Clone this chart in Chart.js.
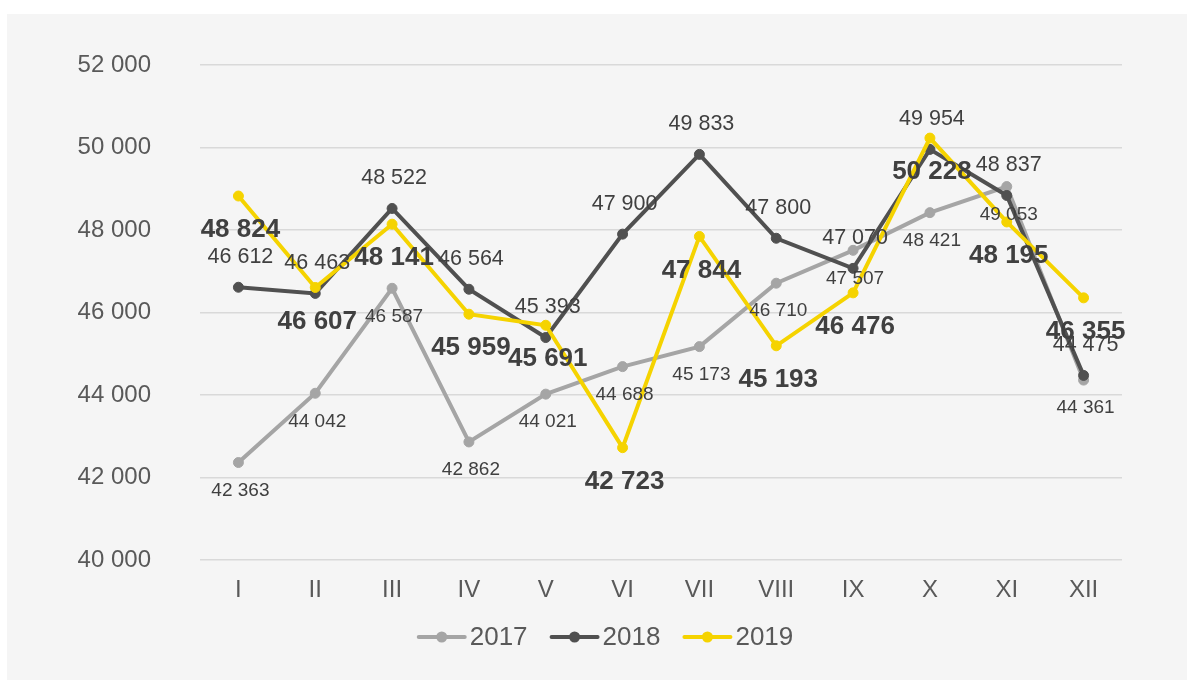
<!DOCTYPE html>
<html>
<head>
<meta charset="utf-8">
<script src="https://cdn.jsdelivr.net/npm/chart.js@4/dist/chart.umd.min.js"></script>
<style>
  html, body { margin: 0; padding: 0; background: #fff; }
  #wrap { position: absolute; left: 7px; top: 14px; width: 1180px; height: 666px; background: #f5f5f5; }
</style>
</head>
<body>
<div id="wrap"><canvas id="chart" width="1180" height="666"></canvas></div>
<script>
const months = ["I", "II", "III", "IV", "V", "VI", "VII", "VIII", "IX", "X", "XI", "XII"];
const seriesNames = ["2017", "2018", "2019"];
const values2017 = [42363, 44042, 46587, 42862, 44021, 44688, 45173, 46710, 47507, 48421, 49053, 44361];
const values2018 = [46612, 46463, 48522, 46564, 45393, 47900, 49833, 47800, 47070, 49954, 48837, 44475];
const values2019 = [48824, 46607, 48141, 45959, 45691, 42723, 47844, 45193, 46476, 50228, 48195, 46355];

const colors = ["#a5a5a5", "#505050", "#f5d300"];
const FONT = "'Liberation Sans', Arial, sans-serif";

// label look per series: offset from point (px), font
const labelStyle = [
  { dy: 28, font: "19px " + FONT },
  { dy: -30, font: "21.5px " + FONT },
  { dy: 34, font: "bold 26px " + FONT }
];

const fmt = v => String(v).replace(/\B(?=(\d{3})+(?!\d))/g, " ");

const valueLabels = {
  id: "valueLabels",
  afterDatasetsDraw(chart) {
    const ctx = chart.ctx;
    ctx.save();
    ctx.textAlign = "center";
    ctx.textBaseline = "middle";
    ctx.fillStyle = "#404040";
    chart.data.datasets.forEach((ds, i) => {
      const meta = chart.getDatasetMeta(i);
      const st = labelStyle[i];
      ctx.font = st.font;
      meta.data.forEach((pt, j) => {
        ctx.fillText(fmt(ds.data[j]), pt.x + 2, pt.y + st.dy);
      });
    });
    ctx.restore();
  }
};

const lineLegend = {
  id: "lineLegend",
  afterDraw(chart) {
    const ctx = chart.ctx;
    ctx.save();
    ctx.font = "26px " + FONT;
    ctx.textBaseline = "middle";
    const lineW = 50, gap = 3, itemGap = 22;
    const widths = seriesNames.map(n => lineW + gap + ctx.measureText(n).width);
    const total = widths.reduce((a, b) => a + b, 0) + itemGap * (widths.length - 1);
    let x = 598 - total / 2;
    const y = 623;
    seriesNames.forEach((n, i) => {
      ctx.strokeStyle = colors[i];
      ctx.fillStyle = colors[i];
      ctx.lineWidth = 4;
      ctx.lineCap = "round";
      ctx.beginPath();
      ctx.moveTo(x + 2, y);
      ctx.lineTo(x + lineW - 2, y);
      ctx.stroke();
      ctx.beginPath();
      ctx.arc(x + lineW / 2, y, 5.5, 0, Math.PI * 2);
      ctx.fill();
      ctx.fillStyle = "#595959";
      ctx.fillText(n, x + lineW + gap, y + 1);
      x += widths[i] + itemGap;
    });
    ctx.restore();
  }
};

const mk = (i, data, order) => ({
  label: seriesNames[i],
  data,
  order,
  borderColor: colors[i],
  backgroundColor: colors[i],
  pointBackgroundColor: colors[i],
  pointBorderColor: colors[i],
  borderWidth: 4,
  pointRadius: 5,
  pointBorderWidth: 1,
  tension: 0,
  fill: false
});

new Chart(document.getElementById("chart"), {
  type: "line",
  data: {
    labels: months,
    datasets: [mk(0, values2017, 2), mk(1, values2018, 1), mk(2, values2019, 0)]
  },
  options: {
    responsive: false,
    animation: false,
    devicePixelRatio: 1,
    layout: { padding: { top: 51, right: 65, left: 0, bottom: 0 } },
    plugins: {
      legend: { display: false },
      tooltip: { enabled: false }
    },
    scales: {
      x: {
        offset: true,
        grid: { display: false, drawTicks: false, offset: true },
        border: { display: false },
        ticks: { color: "#595959", font: { family: FONT, size: 24 }, padding: 16 },
        afterFit: s => { s.height = 120; }
      },
      y: {
        min: 40000,
        max: 52000,
        grid: { color: "#d9d9d9", lineWidth: 1.5, drawTicks: false },
        border: { display: false },
        ticks: {
          stepSize: 2000,
          color: "#595959",
          font: { family: FONT, size: 24 },
          padding: 49,
          callback: v => fmt(v)
        },
        afterFit: s => { s.width = 193; s.paddingTop = 0; s.paddingBottom = 0; }
      }
    }
  },
  plugins: [valueLabels, lineLegend]
});
</script>
</body>
</html>
